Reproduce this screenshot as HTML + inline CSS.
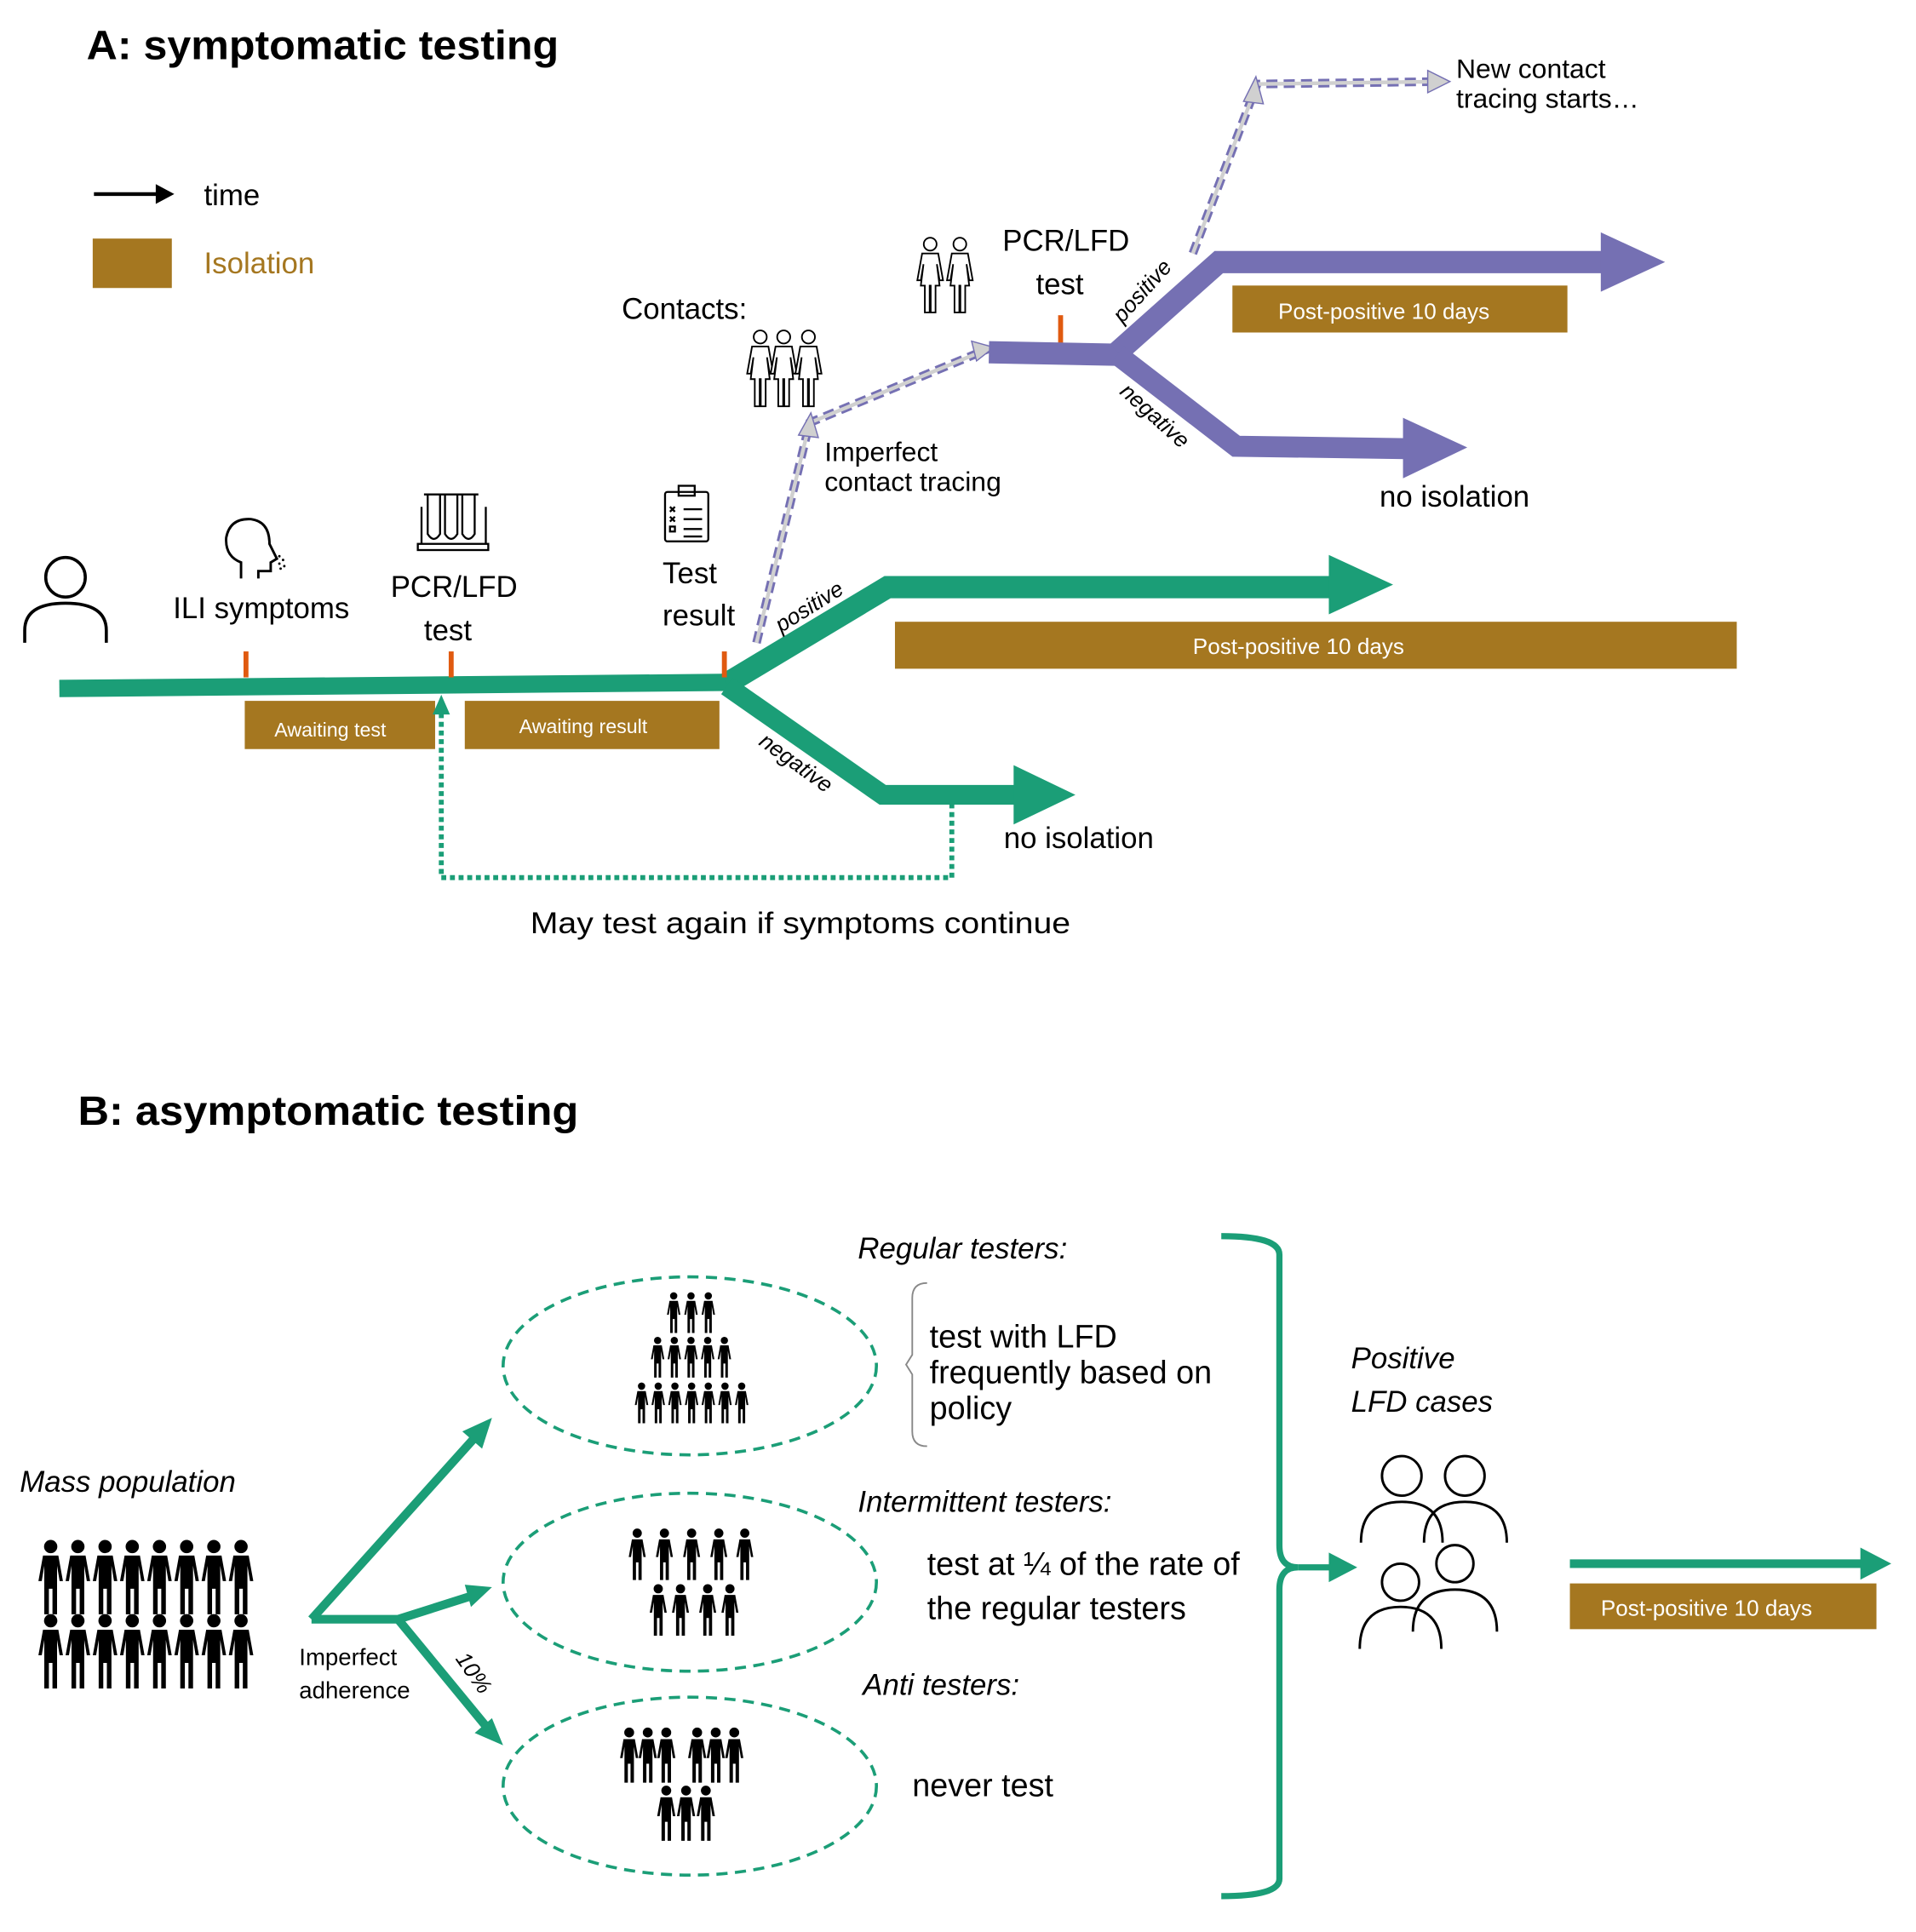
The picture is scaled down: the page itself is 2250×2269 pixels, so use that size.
<!DOCTYPE html>
<html><head><meta charset="utf-8"><style>html,body{margin:0;padding:0;background:#fff}svg{display:block}text{font-family:"Liberation Sans",sans-serif}</style></head>
<body>
<svg width="2250" height="2269" viewBox="0 0 1550 1563" preserveAspectRatio="none" xmlns="http://www.w3.org/2000/svg">
<defs>
<symbol id="p" viewBox="0 0 10 30"><circle cx="5" cy="3" r="2.6" fill="#000"/><path d="M2 6.5h6l1.8 10h-1.3l-1-6v19h-1.8v-10h-1.4v10h-1.8v-19l-1 6h-1.3z" fill="#000"/></symbol>
<symbol id="po" viewBox="0 0 10 30"><circle cx="5" cy="3" r="2.4" fill="none" stroke="#000" stroke-width="0.6"/><path d="M2 6.5h6l1.8 10h-1.3l-1-6 1 8h-1.5v10h-1.8v-10h-0.4v10h-1.8v-10h-1.5l1-8-1 6h-1.3z" fill="#fff" stroke="#000" stroke-width="0.6"/></symbol>
</defs>
<g font-size="24">
<text x="70" y="48" font-size="33" font-weight="bold" textLength="382" lengthAdjust="spacingAndGlyphs">A: symptomatic testing</text>
<line x1="76" y1="157" x2="128" y2="157" stroke="#000" stroke-width="3"/><path d="M126 149l15 8-15 8z"/>
<text x="165" y="166">time</text>
<rect x="75" y="193" width="64" height="40" fill="#a57720"/>
<text x="165" y="221" fill="#a57720">Isolation</text>

<path d="M48 557L592 552" stroke="#1b9e77" stroke-width="14" fill="none"/>
<path d="M588 553L718 475H1080" stroke="#1b9e77" stroke-width="18" fill="none"/>
<path d="M1075 449L1127 473L1075 497z" fill="#1b9e77"/>
<path d="M588 555L714 643H822" stroke="#1b9e77" stroke-width="16" fill="none"/>
<path d="M820 619L870 643L820 667z" fill="#1b9e77"/>
<g stroke="#e05a10" stroke-width="4"><line x1="199" y1="527" x2="199" y2="548"/><line x1="365" y1="527" x2="365" y2="548"/><line x1="586" y1="527" x2="586" y2="548"/><line x1="858" y1="255" x2="858" y2="278"/></g>
<rect x="198" y="567" width="154" height="39" fill="#a57720"/><text x="222" y="596" font-size="16" fill="#fff">Awaiting  test</text>
<rect x="376" y="567" width="206" height="39" fill="#a57720"/><text x="420" y="593" font-size="16" fill="#fff">Awaiting result</text>
<rect x="724" y="503" width="681" height="38" fill="#a57720"/><text x="965" y="529" font-size="18" fill="#fff">Post-positive 10 days</text>
<text x="812" y="686">no isolation</text>
<path d="M770 650V710H357V575" stroke="#1b9e77" stroke-width="4" stroke-dasharray="4 3" fill="none"/>
<path d="M350 578L357 562L364 578z" fill="#1b9e77"/>
<text x="429" y="755" textLength="437" lengthAdjust="spacingAndGlyphs">May test again if symptoms continue</text>
<text x="0" y="0" font-size="18" font-style="italic" transform="translate(632,512) rotate(-32)">positive</text>
<text x="0" y="0" font-size="18" font-style="italic" transform="translate(613,602) rotate(36)">negative</text>

<circle cx="53" cy="467" r="16" fill="none" stroke="#000" stroke-width="2.5"/>
<path d="M20 520V510Q20 488 53 488Q86 488 86 510V520" fill="none" stroke="#000" stroke-width="2.5"/>
<text x="140" y="500">ILI symptoms</text>
<path d="M195 468V455Q182 450 183 435Q186 419 203 420Q218 422 218 440L224 452L219 455V462H209V468" fill="none" stroke="#000" stroke-width="2"/>
<g fill="#000"><circle cx="226" cy="450" r="1"/><circle cx="229" cy="453" r="1"/><circle cx="226" cy="456" r="1"/><circle cx="230" cy="458" r="1"/><circle cx="227" cy="460" r="1"/></g>
<g fill="none" stroke="#000" stroke-width="1.6"><rect x="338" y="440" width="57" height="5"/><path d="M341 410V440M393 410V440"/><path d="M346 400V432Q351 440 356 432V400M360 400V432Q365 440 370 432V400M374 400V432Q379 440 384 432V400"/><path d="M343 400h16M357 400h16M371 400h16"/></g>
<text x="316" y="483">PCR/LFD</text><text x="343" y="518">test</text>
<g fill="none" stroke="#000" stroke-width="1.6"><rect x="538" y="398" width="35" height="40" rx="2"/><rect x="549" y="393" width="13" height="8"/><path d="M553 412h15M553 420h15M553 428h15M553 434h15"/><path d="M542 410l4 4M546 410l-4 4M542 418l4 4M546 418l-4 4"/><rect x="542" y="426" width="4" height="4"/></g>
<text x="536" y="472">Test</text><text x="536" y="506">result</text>

<g fill="none"><path d="M612 520L655 342L800 282" stroke="#7570b3" stroke-width="7" stroke-dasharray="9 5"/><path d="M612 520L655 342L800 282" stroke="#d0d0d0" stroke-width="3"/>
<path d="M965 205L1017 68L1165 66" stroke="#7570b3" stroke-width="7" stroke-dasharray="9 5"/><path d="M965 205L1017 68L1165 66" stroke="#d0d0d0" stroke-width="3"/></g>
<path d="M646 352L656 334L662 354z" fill="#d0d0d0" stroke="#7570b3" stroke-width="1"/><path d="M786 276L804 281L790 292z" fill="#d0d0d0" stroke="#7570b3" stroke-width="1"/>
<path d="M1006 82L1016 62L1022 84z" fill="#d0d0d0" stroke="#7570b3" stroke-width="1"/><path d="M1155 57L1173 66L1155 75z" fill="#d0d0d0" stroke="#7570b3" stroke-width="1"/>
<path d="M800 285L906 287" stroke="#7570b3" stroke-width="18" fill="none"/>
<path d="M904 285L986 212H1300" stroke="#7570b3" stroke-width="18" fill="none"/>
<path d="M1295 188L1347 212L1295 236z" fill="#7570b3"/>
<path d="M904 287L1000 361L1140 363" stroke="#7570b3" stroke-width="17" fill="none"/>
<path d="M1135 338L1187 362L1135 387z" fill="#7570b3"/>
<rect x="997" y="231" width="271" height="38" fill="#a57720"/><text x="1034" y="258" font-size="18" fill="#fff">Post-positive 10 days</text>
<text x="1116" y="410">no isolation</text>
<text x="1178" y="63" font-size="22">New contact</text><text x="1178" y="87" font-size="22">tracing starts…</text>
<text x="811" y="203">PCR/LFD</text><text x="838" y="238">test</text>
<text x="503" y="258">Contacts:</text>
<text x="667" y="373" font-size="22">Imperfect</text><text x="667" y="397" font-size="22">contact tracing</text>
<text x="0" y="0" font-size="18" font-style="italic" transform="translate(908,262) rotate(-48)">positive</text>
<text x="0" y="0" font-size="18" font-style="italic" transform="translate(905,318) rotate(42)">negative</text>
<use href="#po" x="603" y="266" width="24" height="66"/><use href="#po" x="622" y="266" width="24" height="66"/><use href="#po" x="642" y="266" width="24" height="66"/>
<use href="#po" x="740" y="191" width="25" height="65"/><use href="#po" x="764" y="191" width="25" height="65"/>

<text x="63" y="910" font-size="33" font-weight="bold" textLength="405" lengthAdjust="spacingAndGlyphs">B: asymptomatic testing</text>
<g fill="none" stroke="#1b9e77" stroke-width="2.5" stroke-dasharray="9 6"><ellipse cx="558" cy="1105" rx="151" ry="72"/><ellipse cx="558" cy="1280" rx="151" ry="72"/><ellipse cx="558" cy="1445" rx="151" ry="72"/></g>
<g stroke="#1b9e77" stroke-width="7" fill="none"><path d="M252 1310L385 1162"/><path d="M252 1310H322L385 1290"/><path d="M322 1310L396 1400"/></g>
<g fill="#1b9e77"><path d="M398 1147L390 1172L374 1158z"/><path d="M398 1284L381 1300L376 1282z"/><path d="M407 1412L384 1402L398 1390z"/></g>
<text x="242" y="1347" font-size="19">Imperfect</text><text x="242" y="1374" font-size="19">adherence</text>
<text x="0" y="0" font-size="18" font-style="italic" transform="translate(368,1342) rotate(55)">10%</text>
<text x="16" y="1207" font-style="italic">Mass population</text>
<g>
<use href="#p" x="30" y="1245" width="22" height="62"/><use href="#p" x="52" y="1245" width="22" height="62"/><use href="#p" x="74" y="1245" width="22" height="62"/><use href="#p" x="96" y="1245" width="22" height="62"/><use href="#p" x="118" y="1245" width="22" height="62"/><use href="#p" x="140" y="1245" width="22" height="62"/><use href="#p" x="162" y="1245" width="22" height="62"/><use href="#p" x="184" y="1245" width="22" height="62"/>
<use href="#p" x="30" y="1305" width="22" height="62"/><use href="#p" x="52" y="1305" width="22" height="62"/><use href="#p" x="74" y="1305" width="22" height="62"/><use href="#p" x="96" y="1305" width="22" height="62"/><use href="#p" x="118" y="1305" width="22" height="62"/><use href="#p" x="140" y="1305" width="22" height="62"/><use href="#p" x="162" y="1305" width="22" height="62"/><use href="#p" x="184" y="1305" width="22" height="62"/>
<use href="#p" x="538" y="1045" width="14" height="34"/><use href="#p" x="552" y="1045" width="14" height="34"/><use href="#p" x="566" y="1045" width="14" height="34"/>
<use href="#p" x="525" y="1081" width="14" height="34"/><use href="#p" x="538.5" y="1081" width="14" height="34"/><use href="#p" x="552" y="1081" width="14" height="34"/><use href="#p" x="565.5" y="1081" width="14" height="34"/><use href="#p" x="579" y="1081" width="14" height="34"/>
<use href="#p" x="512" y="1118" width="14" height="34"/><use href="#p" x="525.5" y="1118" width="14" height="34"/><use href="#p" x="539" y="1118" width="14" height="34"/><use href="#p" x="552.5" y="1118" width="14" height="34"/><use href="#p" x="566" y="1118" width="14" height="34"/><use href="#p" x="579.5" y="1118" width="14" height="34"/><use href="#p" x="593" y="1118" width="14" height="34"/>
<use href="#p" x="505" y="1236" width="21" height="43"/><use href="#p" x="527" y="1236" width="21" height="43"/><use href="#p" x="549" y="1236" width="21" height="43"/><use href="#p" x="571" y="1236" width="21" height="43"/><use href="#p" x="592" y="1236" width="21" height="43"/>
<use href="#p" x="522" y="1281" width="21" height="43"/><use href="#p" x="540" y="1281" width="21" height="43"/><use href="#p" x="562" y="1281" width="21" height="43"/><use href="#p" x="580" y="1281" width="21" height="43"/>
<use href="#p" x="500" y="1397" width="18" height="46"/><use href="#p" x="515" y="1397" width="18" height="46"/><use href="#p" x="530" y="1397" width="18" height="46"/><use href="#p" x="555" y="1397" width="18" height="46"/><use href="#p" x="570" y="1397" width="18" height="46"/><use href="#p" x="585" y="1397" width="18" height="46"/>
<use href="#p" x="530" y="1444" width="18" height="46"/><use href="#p" x="546" y="1444" width="18" height="46"/><use href="#p" x="562" y="1444" width="18" height="46"/>
</g>
<text x="694" y="1018" font-style="italic">Regular testers:</text>
<path d="M750 1038Q738 1038 738 1050V1096L733 1104L738 1112V1158Q738 1170 750 1170" fill="none" stroke="#888" stroke-width="1.3"/>
<text x="752" y="1090" font-size="26">test with LFD</text><text x="752" y="1119" font-size="26">frequently based on</text><text x="752" y="1148" font-size="26">policy</text>
<text x="694" y="1223" font-style="italic">Intermittent testers:</text>
<text x="750" y="1274" font-size="26">test at ¼ of the rate of</text><text x="750" y="1310" font-size="26">the regular testers</text>
<text x="698" y="1371" font-style="italic">Anti testers:</text>
<text x="738" y="1453" font-size="26">never test</text>
<path d="M988 1000Q1035 1000 1035 1015V1250Q1035 1268 1050 1268Q1035 1268 1035 1286V1520Q1035 1534 988 1534" fill="none" stroke="#1b9e77" stroke-width="5"/>
<path d="M1050 1268H1080" stroke="#1b9e77" stroke-width="5"/><path d="M1075 1256L1098 1268L1075 1280z" fill="#1b9e77"/>
<text x="1093" y="1107" font-style="italic">Positive</text><text x="1093" y="1142" font-style="italic">LFD cases</text>
<g fill="none" stroke="#000" stroke-width="2"><circle cx="1134" cy="1194" r="16"/><circle cx="1185" cy="1194" r="16"/><path d="M1101 1248Q1101 1215 1134 1215Q1167 1215 1167 1248"/><path d="M1152 1248Q1152 1215 1185 1215Q1219 1215 1219 1248"/>
<circle cx="1133" cy="1280" r="15"/><circle cx="1177" cy="1265" r="15"/><path d="M1100 1334Q1100 1300 1133 1300Q1166 1300 1166 1334"/><path d="M1143 1320Q1143 1286 1177 1286Q1211 1286 1211 1320"/></g>
<path d="M1270 1265H1510" stroke="#1b9e77" stroke-width="7"/><path d="M1505 1252L1530 1265L1505 1278z" fill="#1b9e77"/>
<rect x="1270" y="1281" width="248" height="37" fill="#a57720"/><text x="1295" y="1307" font-size="18" fill="#fff">Post-positive 10 days</text>
</g>
</svg>
</body></html>
